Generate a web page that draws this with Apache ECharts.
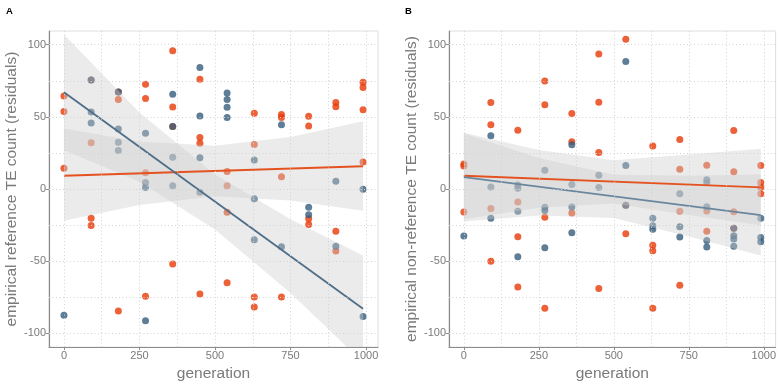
<!DOCTYPE html>
<html lang="en">
<head>
    <meta charset="UTF-8">
    <title>TE count residuals by generation</title>
    <script src="https://cdn.jsdelivr.net/npm/echarts@6/dist/echarts.min.js"></script>
    <style>
        body { margin: 0; background: #fff; }
    </style>
</head>
<body>
    <div id="chart" style="width:779px;height:387px;"></div>

    <script>
        // generations sampled (x)
        var gens = [0, 90, 180, 270, 360, 450, 540, 630, 720, 810, 900, 990];

        // panel A: empirical reference TE count residuals, one list per generation
        var refOrange = [
            [64.5, 53.8, 14.4], [75.6, 32, -20.2, -25.2], [67.3, 62, -84.5], [72.6, 62.8, 11.3, -74.3],
            [95.9, 56.8, 43.3, -51.9], [76.1, 35.7, 31.8, -72.7], [12.1, 2.2, -16.1, -64.9], [52.5, 30.9, -74.8, -81.8],
            [51.6, 49.5, 8.5, -74.8], [50.5, 43.6, -20.5, -24.5], [60, 57.1, -29.2, -43], [74, 70.4, 55, 18.8]
        ];
        var refBlue = [
            [-87.4], [75.6, 53.3, 45.7], [67.3, 41.6, 32.5, 26.7], [38.7, 4.5, 1.1, -91.3],
            [65.6, 43.3, 22, 2.2], [84.2, 50.6, 21.7, -2.3], [66.6, 62, 56.6, 49.5], [20.1, -6.7, -35.1],
            [44.5, -40], [-12.6, -17.8], [5.4, -39.6], [-0.2, -88.3]
        ];

        // panel B: empirical non-reference TE count residuals
        var nonrefOrange = [
            [17.4, 16, -15.9], [60, 44.5, -13.5, -50.1], [40.8, -8.9, -33, -67.9], [74.9, 58.4, -19.6, -82.5],
            [52.3, 32.7, -16.6], [93.5, 60.2, 25.3, -68.9], [103.7, -11.3, -31], [29.9, -39, -42.8, -82.5],
            [34.4, 13.7, -15.3, -66.6], [16.5, -15.2, -29.2], [40.5, 11.9, -15.7, -27.2], [16.4, 4.6, 1.3, -3.3]
        ];
        var nonrefBlue = [
            [-32.5], [36.9, 1.4, -20.3], [2.8, 0.6, -15.4, -46.9], [13, -12.6, -14.8, -40.6],
            [30.7, 3.1, -12.5, -30.2], [9.6, 1.1], [88.3, 16.3, -11.3], [-20.3, -25.4, -27.9],
            [-3.3, -26.1, -33.3], [6.5, 4.5, -12.3, -35.6, -40.1], [-27.2, -32.4, -34.6, -39.7], [-20.2, -33.6, -36.5]
        ];

        // fitted lines, read at both ends
        var fitGens = [0, 990];
        var refOrangeFit = [9.2, 15.8];
        var refBlueFit = [67, -83];
        var nonrefOrangeFit = [9.2, 1.1];
        var nonrefBlueFit = [8.2, -18.1];

        // confidence bands, read at a few generations
        var bandGens = [0, 250, 500, 750, 990];
        var refOrangeUpper = [42, 33, 30, 36, 47];
        var refOrangeLower = [-22, -11, -5, -8, -15];
        var refBlueUpper = [107, 53, 10, -21, -46];
        var refBlueLower = [27, 5, -28, -72, -120];
        var nonrefOrangeUpper = [39, 27, 20, 24, 28];
        var nonrefOrangeLower = [-21, -13, -10, -18, -25];
        var nonrefBlueUpper = [38.5, 21.5, 9.9, 9.2, 10];
        var nonrefBlueLower = [-22.5, -18.4, -20, -32.8, -46];

        // ticks and grid lines
        var xTicks = [0, 250, 500, 750, 1000];
        var xMinor = [125, 375, 625, 875];
        var yTicks = [-100, -50, 0, 50, 100];
        var yMinor = [-75, -25, 25, 75];

        var ORANGE = '#e73a06';
        var BLUE = '#365c7c';
        var TEXT = '#7a7a7a';
        var FONT = 'Liberation Sans';

        function toPoints(lists) {
            var pts = [];
            lists.forEach(function (vals, i) {
                vals.forEach(function (v) { pts.push([gens[i], v]); });
            });
            return pts;
        }

        function pairs(xs, ys) {
            return xs.map(function (x, i) { return [x, ys[i]]; });
        }

        function scatter(idx, lists, color) {
            return {
                type: 'scatter', xAxisIndex: idx, yAxisIndex: idx,
                data: toPoints(lists), symbolSize: 7, z: 2, silent: true,
                itemStyle: { color: color, opacity: 0.8 }
            };
        }

        function ribbon(idx, upper, lower) {
            return {
                type: 'custom', xAxisIndex: idx, yAxisIndex: idx, clip: true, silent: true, z: 3,
                data: [[0, 0]],
                renderItem: function (params, api) {
                    var pts = [];
                    for (var i = 0; i < bandGens.length; i++) pts.push(api.coord([bandGens[i], upper[i]]));
                    for (var j = bandGens.length - 1; j >= 0; j--) pts.push(api.coord([bandGens[j], lower[j]]));
                    return { type: 'polygon', shape: { points: pts }, style: { fill: 'rgba(204,204,204,0.4)' } };
                }
            };
        }

        function fitLine(idx, ys, color) {
            return {
                type: 'line', xAxisIndex: idx, yAxisIndex: idx, data: pairs(fitGens, ys),
                symbol: 'none', z: 4, silent: true,
                lineStyle: { color: color, width: 1.8 }
            };
        }

        function gridLines(idx) {
            var d = [];
            xTicks.concat(xMinor).forEach(function (v) { d.push({ xAxis: v }); });
            yTicks.concat(yMinor).forEach(function (v) { d.push({ yAxis: v }); });
            return {
                type: 'line', xAxisIndex: idx, yAxisIndex: idx, data: [], z: 1, silent: true,
                markLine: {
                    silent: true, symbol: 'none', animation: false,
                    label: { show: false },
                    lineStyle: { color: '#d2d2d2', width: 1, type: [1, 2.5] },
                    data: d
                }
            };
        }

        function plain(v) { return String(v); }

        function xAxis(idx) {
            return {
                gridIndex: idx, type: 'value', min: -49.5, max: 1039.5,
                splitLine: { show: false },
                axisLine: { show: true, onZero: false, lineStyle: { color: '#8c8c8c', width: 1.2 } },
                axisTick: { show: true, length: 3, customValues: xTicks, lineStyle: { color: '#8c8c8c' } },
                axisLabel: { customValues: xTicks, formatter: plain, color: TEXT, fontSize: 11, margin: 3, fontFamily: FONT },
                name: 'generation', nameLocation: 'middle', nameGap: 17,
                nameTextStyle: { color: TEXT, fontSize: 15.5, fontFamily: FONT }
            };
        }

        function yAxis(idx, title) {
            return {
                gridIndex: idx, type: 'value', min: -109.5, max: 109.5,
                splitLine: { show: false },
                axisLine: { show: true, onZero: false, lineStyle: { color: '#8c8c8c', width: 1.2 } },
                axisTick: { show: true, length: 3, customValues: yTicks, lineStyle: { color: '#8c8c8c' } },
                axisLabel: { customValues: yTicks, formatter: plain, color: TEXT, fontSize: 11, margin: 3, fontFamily: FONT },
                name: title, nameLocation: 'middle', nameGap: 29,
                nameTextStyle: { color: TEXT, fontSize: 15.5, fontFamily: FONT }
            };
        }

        var chart = echarts.init(document.getElementById('chart'));
        var option = {
            animation: false,
            backgroundColor: '#fff',
            title: [
                { text: 'A', left: 1, top: 1, textStyle: { fontSize: 9.5, fontWeight: 'bold', color: '#000', fontFamily: FONT } },
                { text: 'B', left: 400, top: 1, textStyle: { fontSize: 9.5, fontWeight: 'bold', color: '#000', fontFamily: FONT } }
            ],
            grid: [
                { left: 49, top: 31, width: 329, height: 323, show: true, borderColor: '#dedede', borderWidth: 1 },
                { left: 449, top: 31, width: 329, height: 323, show: true, borderColor: '#dedede', borderWidth: 1 }
            ],
            xAxis: [xAxis(0), xAxis(1)],
            yAxis: [
                yAxis(0, 'empirical reference TE count (residuals)'),
                yAxis(1, 'empirical non-reference TE count (residuals)')
            ],
            series: [
                gridLines(0),
                scatter(0, refOrange, ORANGE),
                scatter(0, refBlue, BLUE),
                ribbon(0, refOrangeUpper, refOrangeLower),
                ribbon(0, refBlueUpper, refBlueLower),
                fitLine(0, refOrangeFit, '#e4531f'),
                fitLine(0, refBlueFit, '#4f6e88'),

                gridLines(1),
                scatter(1, nonrefOrange, ORANGE),
                scatter(1, nonrefBlue, BLUE),
                ribbon(1, nonrefOrangeUpper, nonrefOrangeLower),
                ribbon(1, nonrefBlueUpper, nonrefBlueLower),
                fitLine(1, nonrefOrangeFit, '#e4531f'),
                fitLine(1, nonrefBlueFit, '#6a879f')
            ]
        };
        chart.setOption(option);
    </script>
</body>
</html>
